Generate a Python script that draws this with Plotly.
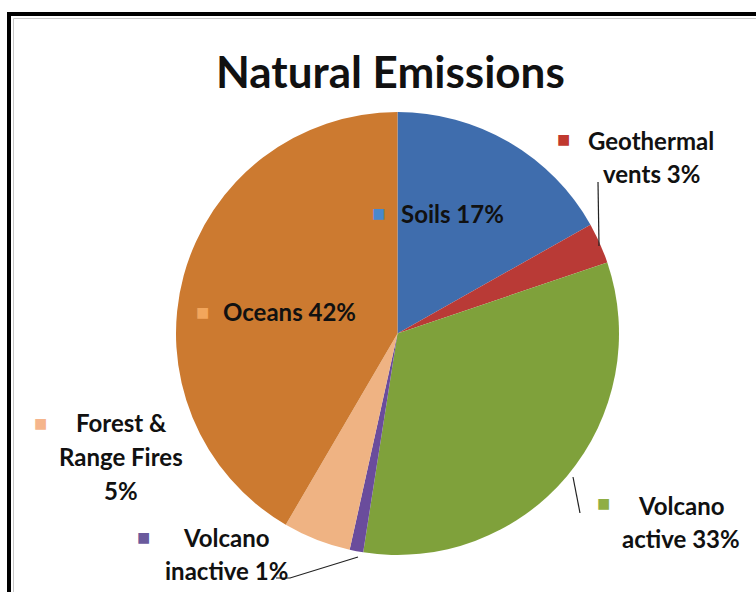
import plotly.graph_objects as go

# slice data, clockwise from 12 o'clock
sources = ["Soils", "Geothermal vents", "Volcano active", "Volcano inactive", "Forest & Range Fires", "Oceans"]
shares = [17, 3, 33, 1, 5, 42]
label_lines = [
    ["Soils {}%"],
    ["Geothermal", "vents {}%"],
    ["Volcano", "active {}%"],
    ["Volcano", "inactive {}%"],
    ["Forest &", "Range Fires", "{}%"],
    ["Oceans {}%"],
]
colors = ["#3F6DAD", "#B93A36", "#7FA13B", "#6A4C9C", "#EFB383", "#CC7A30"]
key_colors = ["#4A88CC", "#C0392F", "#8FAE45", "#6A5A9C", "#F5B58C", "#F2A65C"]

W, H = 756, 592
FONT = "Lato"


def px(x, y):
    return x / W, 1 - y / H


fig = go.Figure(
    go.Pie(
        labels=sources,
        values=shares,
        sort=False,
        direction="clockwise",
        rotation=0,
        marker=dict(colors=colors, line=dict(width=0)),
        textinfo="none",
        hoverinfo="label+percent",
        domain=dict(x=[175 / W, 620 / W], y=[37 / H, 480 / H]),
        showlegend=False,
    )
)

# label layout: (key marker x, key y, text centre x, first line y, line step)
spots = [
    (379, 212, 452, 213, 0),
    (563, 139, 651, 140, 33),
    (603, 502, 681, 505, 33),
    (143, 536, 226, 537, 33),
    (40, 423, 121, 423, 33.5),
    (202, 311, 289, 311, 0),
]

ann = []
for lines, val, kc, (kx, ky, tx, ty, step) in zip(label_lines, shares, key_colors, spots):
    x, y = px(kx, ky)
    ann.append(dict(x=x, y=y, text="■", font=dict(size=22, color=kc, family=FONT)))
    for i, ln in enumerate(lines):
        x, y = px(tx, ty + i * step)
        ann.append(dict(x=x, y=y, text="<b>" + ln.format(val) + "</b>",
                        font=dict(size=24, color="#111111", family=FONT)))

tx, ty = px(390, 71)
ann.append(dict(x=tx, y=ty, text="<b>Natural Emissions</b>", font=dict(size=44, color="#111111", family=FONT)))

for a in ann:
    a.update(xref="paper", yref="paper", showarrow=False, xanchor="center", yanchor="middle")

# leader lines
leaders = [
    [(598, 182), (599, 246)],
    [(573, 477), (580, 513)],
    [(358, 557), (290, 578), (276, 578)],
]
shapes = []
for pts in leaders:
    path = "M " + " L ".join(f"{px(a, b)[0]},{px(a, b)[1]}" for a, b in pts)
    shapes.append(dict(type="path", xref="paper", yref="paper", path=path,
                       line=dict(color="#222222", width=1.2)))

# outer frame of the chart
x0, y1 = px(9, 14)
shapes.append(dict(type="rect", xref="paper", yref="paper", x0=x0, x1=1.05, y0=-0.05, y1=y1,
                   line=dict(color="#000000", width=4)))
x0, y1 = px(13.5, 18.5)
shapes.append(dict(type="rect", xref="paper", yref="paper", x0=x0, x1=1.05, y0=-0.05, y1=y1,
                   line=dict(color="#C8C8C8", width=1)))

fig.update_layout(
    width=W,
    height=H,
    margin=dict(l=0, r=0, t=0, b=0),
    paper_bgcolor="white",
    plot_bgcolor="white",
    annotations=ann,
    shapes=shapes,
)

# drop the default 8px page margin so the figure sits at the window origin
fig.write_html("out.html", config={"displayModeBar": False},
               post_script="document.body.style.margin='0';")
